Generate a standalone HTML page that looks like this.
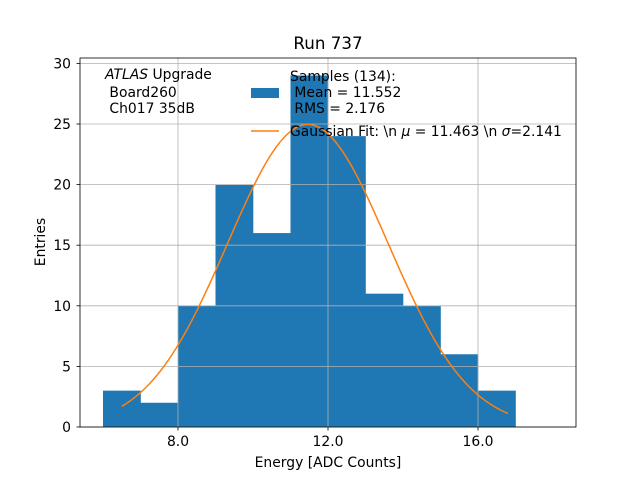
<!DOCTYPE html>
<html><head><meta charset="utf-8"><style>
body{margin:0;background:#fff;font-family:"DejaVu Sans","Liberation Sans",sans-serif;}
svg text{font-family:"DejaVu Sans","Liberation Sans",sans-serif;white-space:pre;}
</style></head><body>
<svg id="chart" width="640" height="480" xmlns="http://www.w3.org/2000/svg">
<rect width="640" height="480" fill="#fff"/>
<g id="bars"></g>
<g id="grid"></g>
<path id="fit" fill="none" stroke="#ff7f0e" stroke-width="1.5"/>
<rect x="80" y="58" width="496" height="369" fill="none" stroke="#000" stroke-width="0.8"/>
<g id="ticks" font-size="13.9"></g>
<text x="328" y="49" text-anchor="middle" font-size="16.7">Run 737</text>
<text x="328" y="467" text-anchor="middle" font-size="13.9">Energy [ADC Counts]</text>
<text transform="translate(45,242) rotate(-90)" text-anchor="middle" font-size="13.9">Entries</text>
<g font-size="13.9">
<text x="105" y="79"><tspan font-style="italic">ATLAS</tspan> Upgrade</text>
<text x="105" y="97">&#160;Board260</text>
<text x="105" y="113">&#160;Ch017 35dB</text>
</g>
<g font-size="13.9">
<text x="290" y="81">Samples (134):</text>
<rect x="251" y="88" width="28" height="10" fill="#1f77b4"/>
<text x="290" y="97">&#160;Mean = 11.552</text>
<text x="290" y="113">&#160;RMS = 2.176</text>
<line x1="251" y1="131" x2="279" y2="131" stroke="#ff7f0e" stroke-width="1.5"/>
<text x="290" y="136">Gaussian Fit: \n <tspan font-style="italic">μ</tspan> = 11.463 \n <tspan font-style="italic">σ</tspan>=2.141</text>
</g>
</svg>
<script>
const binEdges=[6,7,8,9,10,11,12,13,14,15,16,17];
const counts=[3,2,10,20,16,29,24,11,10,6,3];
const fitMu=11.463, fitSigma=2.141, fitN=134, fitRange=[6.5,16.8];
const xTicks=[8,12,16], xTickLabels=["8.0","12.0","16.0"];
const yTicks=[0,5,10,15,20,25,30];
const NS="http://www.w3.org/2000/svg";
const X=v=>178+(v-8)*37.5, Y=v=>427-v*12.12;
const grid=document.getElementById('grid'),bars=document.getElementById('bars'),ticks=document.getElementById('ticks');
function mk(t,a,p){const e=document.createElementNS(NS,t);for(const k in a)e.setAttribute(k,a[k]);p.appendChild(e);return e;}
xTicks.forEach((v,i)=>{
 const g=mk('line',{x1:X(v),x2:X(v),y1:58,y2:427,stroke:'#b0b0b0','stroke-width':0.8},grid);
 
 
 mk('line',{x1:X(v),x2:X(v),y1:427,y2:430.5,stroke:'#000','stroke-width':0.8},ticks);
 const t=mk('text',{x:X(v),y:446,'text-anchor':'middle'},ticks);t.textContent=xTickLabels[i];
 
 
});
yTicks.forEach(v=>{
 const g=mk('line',{x1:80,x2:576,y1:Y(v),y2:Y(v),stroke:'#b0b0b0','stroke-width':0.8},grid);
 
 
 mk('line',{x1:76.5,x2:80,y1:Y(v),y2:Y(v),stroke:'#000','stroke-width':0.8},ticks);
 const t=mk('text',{x:71,y:Y(v)+5,'text-anchor':'end'},ticks);t.textContent=v;
 
 
});
counts.forEach((c,i)=>{
 const r=mk('rect',{x:X(binEdges[i]),y:Y(c),width:X(binEdges[i+1])-X(binEdges[i])+0.3,height:Y(0)-Y(c),fill:'#1f77b4'},bars);
 
 
});
const amp=fitN/(Math.sqrt(2*Math.PI)*fitSigma);let d='';
for(let i=0;i<=100;i++){const x=fitRange[0]+(fitRange[1]-fitRange[0])*i/100;
 const y=amp*Math.exp(-((x-fitMu)**2)/(2*fitSigma*fitSigma));d+=(i?'L':'M')+X(x).toFixed(2)+','+Y(y).toFixed(2);}
document.getElementById('fit').setAttribute('d',d);
</script>
</body></html>
